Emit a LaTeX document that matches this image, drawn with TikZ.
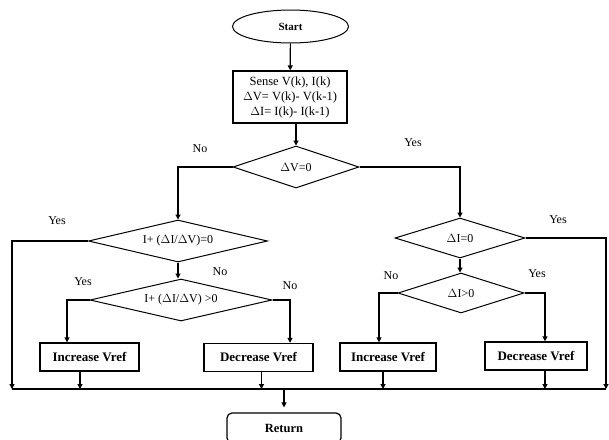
\documentclass[tikz,border=0pt]{standalone}
\usepackage{fontspec}
\setmainfont{Liberation Serif}
\usepackage{tikz}
\usetikzlibrary{shapes.geometric,arrows.meta}
\tikzset{
  startbox/.style={ellipse, draw, line width=1pt, minimum width=116pt, minimum height=33pt, inner sep=0pt, font=\fontsize{11}{13}\selectfont\bfseries},
  sensebox/.style={draw, line width=1.4pt, minimum width=114pt, minimum height=52pt, align=center, font=\fontsize{12.5}{15}\selectfont},
  testbox/.style={diamond, draw, line width=1pt, aspect=3, inner sep=0pt, font=\fontsize{12}{14}\selectfont},
  actbox/.style={draw, line width=1.4pt, minimum height=28pt, inner sep=0pt, font=\fontsize{13}{15}\selectfont\bfseries},
  retbox/.style={draw, line width=1.2pt, rounded corners=5pt, minimum width=114pt, minimum height=30pt, font=\fontsize{12.5}{15}\selectfont\bfseries},
  flow/.style={line width=1.2pt, -{Triangle[length=5pt,width=5pt]}},
  link/.style={line width=1.2pt},
  lab/.style={font=\fontsize{12}{14}\selectfont}
}
\begin{document}
\begin{tikzpicture}[x=1pt, y=-1pt]
  \useasboundingbox (0,0) rectangle (609,439);

  % top part
  \node[startbox] (start) at (290.5,26.5) {Start};
  \node[sensebox] (sense) at (290,97) {Sense V(k), I(k)\\$\Delta$V= V(k)- V(k-1)\\$\Delta$I= I(k)- I(k-1)};
  \node[testbox, minimum width=126pt, minimum height=42pt] (dv) at (296,167) {$\Delta$V=0};

  % left branch
  \node[testbox, minimum width=179pt, minimum height=42pt] (dz) at (178,241) {I+ ($\Delta$I/$\Delta$V)=0};
  \node[testbox, minimum width=182pt, minimum height=42pt] (dp) at (181,300) {I+ ($\Delta$I/$\Delta$V) >0};
  \node[actbox, minimum width=99pt] (incL) at (89.5,357) {Increase Vref};
  \node[actbox, minimum width=109pt] (decL) at (258.5,357.5) {Decrease Vref};

  % right branch
  \node[testbox, minimum width=130pt, minimum height=40pt] (diz) at (460,238) {$\Delta$I=0};
  \node[testbox, minimum width=126pt, minimum height=40pt] (dip) at (461,293) {$\Delta$I>0};
  \node[actbox, minimum width=96pt] (incR) at (388,357) {Increase Vref};
  \node[actbox, minimum width=102pt] (decR) at (536,356) {Decrease Vref};

  \node[retbox] (ret) at (284,428) {Return};

  \coordinate (bl) at (12,389);
  \coordinate (br) at (606,389);

  % connectors
  \draw[flow] (start) -- (sense);
  \draw[flow] (dv.north |- sense.south) -- (dv.north);
  \draw[flow] (dv.west) -| (dz.north);
  \draw[flow] (dv.east) -| (diz.north);

  \draw[flow] (dz.west) -| (bl);
  \draw[flow] (dz.south) -- (dz.south |- dp.north);
  \draw[flow] (dp.west) -| ([xshift=-22.5pt]incL.north);
  \draw[flow] (dp.east) -| ([xshift=31.5pt]decL.north);

  \draw[flow] (diz.east) -| (br);
  \draw[flow] (diz.south) -- (diz.south |- dip.north);
  \draw[flow] (dip.west) -| ([xshift=-9pt]incR.north);
  \draw[flow] (dip.east) -| ([xshift=9pt]decR.north);

  \draw[flow] ([xshift=-9.5pt]incL.south) -- ([xshift=-9.5pt]incL.south |- bl);
  \draw[flow] ([xshift=3pt]decL.south) -- ([xshift=3pt]decL.south |- bl);
  \draw[flow] ([xshift=-5pt]incR.south) -- ([xshift=-5pt]incR.south |- bl);
  \draw[flow] ([xshift=9pt]decR.south) -- ([xshift=9pt]decR.south |- bl);

  \draw[link] (bl) -- (br);
  \draw[flow] (ret.north |- bl) -- ([yshift=5pt]ret.north);

  % branch labels
  \node[lab] (nA) at (200,149) {No};
  \node[lab] (yA) at (413,143) {Yes};
  \node[lab] (yB) at (57,221) {Yes};
  \node[lab] (nB) at (220,272) {No};
  \node[lab] (yC) at (83,282) {Yes};
  \node[lab] (nC) at (290,286) {No};
  \node[lab] (yD) at (558,220) {Yes};
  \node[lab] (nD) at (391,276) {No};
  \node[lab] (yE) at (537,274) {Yes};
\end{tikzpicture}
\end{document}
